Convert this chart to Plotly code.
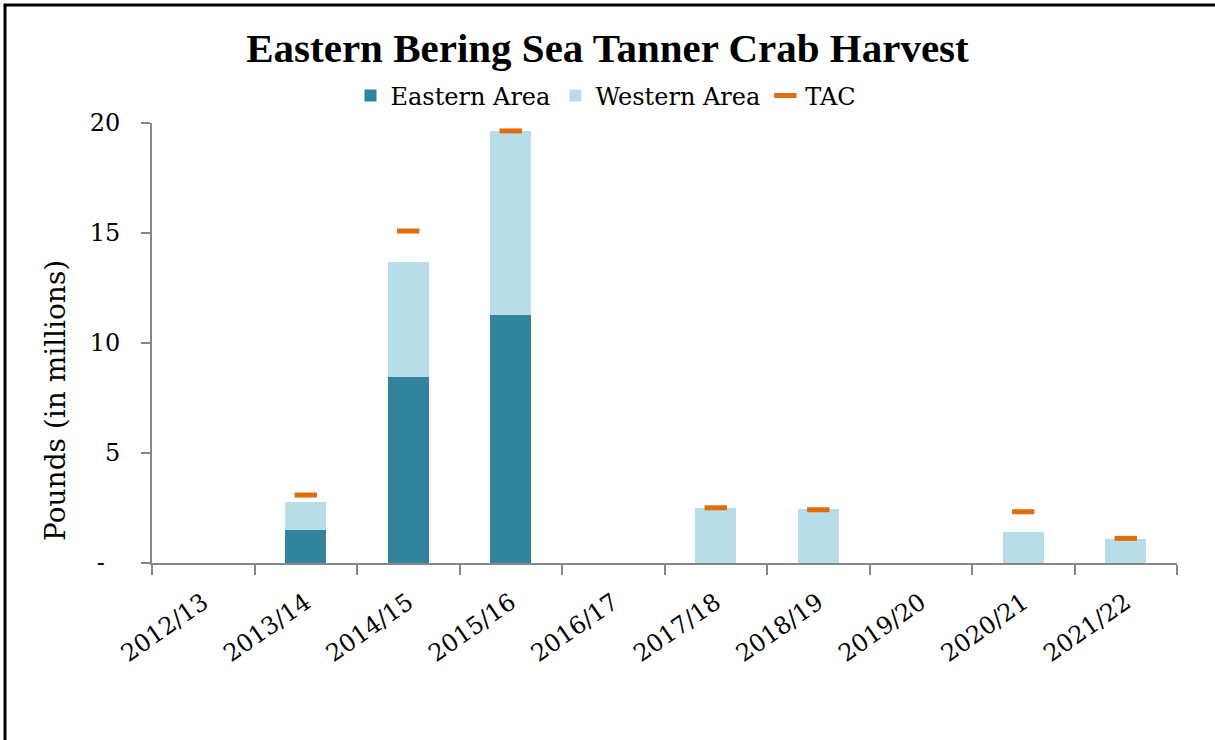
import plotly.graph_objects as go

seasons = ["2012/13", "2013/14", "2014/15", "2015/16", "2016/17",
           "2017/18", "2018/19", "2019/20", "2020/21", "2021/22"]
eastern = [0, 1.50, 8.45, 11.27, 0, 0, 0, 0, 0, 0]
western = [0, 1.27, 5.23, 8.37, 0, 2.49, 2.44, 0, 1.42, 1.08]
tac = [None, 3.09, 15.09, 19.64, None, 2.51, 2.42, None, 2.33, 1.12]

y_ticks = [0, 5, 10, 15, 20]
y_tick_text = ["-\u00a0\u00a0", "5", "10", "15", "20"]

W, H = 1215, 740
L, R, T, B = 152, 38, 123, 177
pw, ph = W - L - R, H - T - B

def px_x(px):
    return (px - L) / pw

def px_y(py):
    return (H - B - py) / ph

serif = "DejaVu Serif"

fig = go.Figure()
fig.add_trace(go.Bar(x=seasons, y=eastern, name="Eastern Area",
                     marker=dict(color="#31849B", line=dict(width=0))))
fig.add_trace(go.Bar(x=seasons, y=western, name="Western Area",
                     marker=dict(color="#B7DEE8", line=dict(width=0))))
fig.add_trace(go.Scatter(x=seasons, y=tac, name="TAC", mode="markers",
                         marker=dict(symbol="line-ew", size=16,
                                     line=dict(color="#E36C0A", width=5))))

fig.update_layout(
    width=W, height=H,
    barmode="stack", bargap=0.6,
    plot_bgcolor="white", paper_bgcolor="white",
    margin=dict(l=L, r=R, t=T, b=B, autoexpand=False),
    font=dict(family=serif, color="black", size=24),
    title=dict(text="<b>Eastern Bering Sea Tanner Crab Harvest</b>",
               x=0.5, xanchor="center", y=1 - 48 / H, yanchor="middle",
               font=dict(family="Liberation Serif", size=41, color="black")),
    legend=dict(orientation="h", x=px_x(606), xanchor="center",
                y=px_y(96), yanchor="middle", traceorder="normal",
                font=dict(family=serif, size=24), itemwidth=30,
                bgcolor="rgba(0,0,0,0)"),
    showlegend=True,
)

fig.update_xaxes(
    type="category", range=[-0.5, 9.5], tickson="boundaries",
    showline=True, linecolor="#868686", linewidth=2,
    ticks="outside", ticklen=10, tickwidth=2, tickcolor="#868686",
    tickangle=-35, tickfont=dict(family=serif, size=24),
    showgrid=False, zeroline=False, ticklabelstandoff=14,
)
fig.update_yaxes(
    range=[0, 20], tickvals=y_ticks, ticktext=y_tick_text,
    showline=True, linecolor="#868686", linewidth=2,
    ticks="outside", ticklen=9, tickwidth=2, tickcolor="#868686",
    tickfont=dict(family=serif, size=24),
    showgrid=False, zeroline=False, ticklabelstandoff=16,
)

fig.add_annotation(text="Pounds (in millions)", textangle=-90,
                   xref="paper", yref="paper", x=px_x(55), y=px_y(401),
                   xanchor="center", yanchor="middle", showarrow=False,
                   font=dict(family=serif, size=28, color="black"))

fig.add_shape(type="rect", xref="paper", yref="paper",
              x0=px_x(5), x1=px_x(W + 5), y0=px_y(H + 5), y1=px_y(5),
              line=dict(color="black", width=3), layer="above")

fig.write_html("out.html", config={"displayModeBar": False},
               post_script="document.body.style.margin='0';document.body.style.overflow='hidden';")
